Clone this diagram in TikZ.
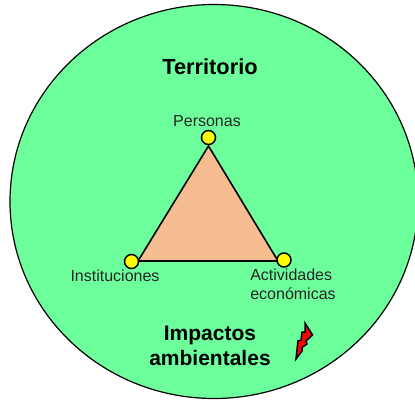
\documentclass[tikz,border=0pt]{standalone}
\usepackage{fontspec}
\setmainfont{Liberation Sans}
\usetikzlibrary{positioning}
\tikzstyle{lamina} = [x = 1pt, y = -1pt]
\definecolor{fondoColor}{RGB}{108,255,156}
\definecolor{trianguloColor}{RGB}{246,190,144}
\definecolor{verticeColor}{RGB}{255,255,0}
\definecolor{rayoColor}{RGB}{255,0,0}
\tikzstyle{territorioStyle} = [draw=black, fill=fondoColor, line width=1.2pt]
\tikzstyle{trianguloStyle} = [draw=black, fill=trianguloColor, line width=1.6pt, line join=miter]
\tikzstyle{verticeStyle} = [circle, draw=black, fill=verticeColor, line width=1.5pt, minimum size=14pt, inner sep=0pt]
\tikzstyle{tituloText} = [font=\fontsize{21.8}{25}\selectfont\bfseries, align=center, inner sep=0pt]
\tikzstyle{impactosText} = [font=\fontsize{21}{25}\selectfont\bfseries, align=center, inner sep=0pt]
\tikzstyle{verticeText} = [font=\fontsize{16}{18.6}\selectfont, align=left, inner sep=0pt, text=black!85]
\tikzstyle{rayoStyle} = [draw=black, fill=rayoColor, line width=1.5pt, line join=miter]
\begin{document}
\begin{tikzpicture}[lamina]
  \useasboundingbox (0,0) rectangle (415,400);
  \begin{scope}
    \clip (0,0) rectangle (415,400);
    \draw[territorioStyle] (214,201.5) ellipse [x radius=204, y radius=197];
  \end{scope}

  \coordinate (arriba) at (208.5,146);
  \coordinate (izquierda) at (138,261);
  \coordinate (derecha) at (278,261);
  \filldraw[trianguloStyle] (arriba) -- (izquierda) -- (derecha) -- cycle;

  \node[verticeStyle] (personas) at (208.5,137.5) {};
  \node[verticeStyle] (instituciones) at (131.5,261.5) {};
  \node[verticeStyle] (actividades) at (284,260) {};

  \node[tituloText] (territorio) at (210,66.5) {Territorio};
  \node[impactosText] (impactos) at (210,346) {Impactos\\ambientales};
  \node[verticeText] (personasText) at (207,121.5) {Personas};
  \node[verticeText] (institucionesText) at (115,275.5) {Instituciones};
  \node[verticeText] (actividadesText) at (293,284.5) {Actividades\\económicas};

  \filldraw[rayoStyle] (296,359) -- (298,340.5) -- (301,340.5) -- (302,332) -- (305,332) -- (305,323)
    -- (312.5,335) -- (306,341) -- (307,344) -- (302,347.5) -- (302,351) -- cycle;
\end{tikzpicture}
\end{document}
